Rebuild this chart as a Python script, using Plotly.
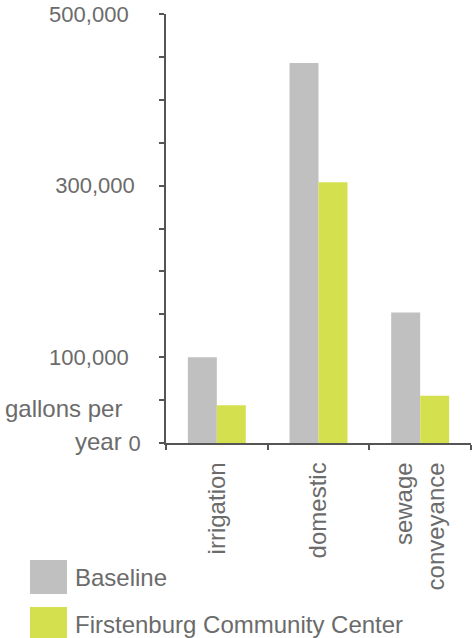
import plotly.graph_objects as go

categories = ["irrigation", "domestic", "sewage<br>conveyance"]
series_names = ["Baseline", "Firstenburg Community Center"]
baseline = [100000, 443000, 152000]
firstenburg = [44000, 304000, 55000]
y_tickvals = [0, 50000, 100000, 150000, 200000, 250000, 300000, 350000, 400000, 450000, 500000]
y_ticktext = ["0", "", "100,000\u00a0\u00a0", "", "", "", "300,000\u00a0", "", "", "", "500,000\u00a0\u00a0"]
y_title_lines = ["gallons per", "year"]

colors = ["#C0C0C0", "#D5E04F"]
TXT = "#6b6b6b"
FONT = "Liberation Sans, Arial, sans-serif"

W, H = 473, 638
ML, MR, MT, MB = 166, 2, 14, 195
PW, PH = W - ML - MR, H - MT - MB

def px_x(x):
    return (x - ML) / PW

def px_y(y):
    return (H - MB - y) / PH

fig = go.Figure()
for name, vals, col in zip(series_names, [baseline, firstenburg], colors):
    fig.add_trace(go.Bar(x=categories, y=vals, name=name, marker=dict(color=col, line=dict(width=0)),
                         showlegend=False))

fig.update_layout(
    width=W, height=H,
    margin=dict(l=ML, r=MR, t=MT, b=MB, pad=0),
    paper_bgcolor="white", plot_bgcolor="white",
    barmode="group", bargap=0.43, bargroupgap=0,
    font=dict(family=FONT, color=TXT, size=22),
)
fig.update_xaxes(
    showline=True, linecolor="#555", linewidth=1.5,
    ticks="outside", tickson="boundaries", ticklen=5, tickcolor="#555", tickwidth=1.5,
    tickangle=-90, tickfont=dict(size=24, color=TXT), ticklabelstandoff=8,
    showgrid=False, zeroline=False,
)
fig.update_yaxes(
    range=[0, 500000], showline=True, linecolor="#555", linewidth=1.5,
    ticks="outside", ticklen=5, tickcolor="#555", tickwidth=1.5,
    tickmode="array", tickvals=y_tickvals, ticktext=y_ticktext,
    tickfont=dict(size=22, color=TXT), ticklabelstandoff=14,
    showgrid=False, zeroline=False,
)

# y-axis title, two right-aligned lines beside the zero label
for line, cy in zip(y_title_lines, [408, 441]):
    fig.add_annotation(text=line, xref="paper", yref="paper", x=px_x(124), y=px_y(cy),
                       xanchor="right", yanchor="middle", align="right", showarrow=False,
                       font=dict(size=24, color=TXT))

# legend drawn manually (large swatches)
for i, (name, col) in enumerate(zip(series_names, colors)):
    top = 560 + i * 47
    fig.add_shape(type="rect", xref="paper", yref="paper",
                  x0=px_x(30), x1=px_x(67), y0=px_y(top), y1=px_y(top + 34),
                  fillcolor=col, line=dict(width=0))
    fig.add_annotation(text=name, xref="paper", yref="paper", x=px_x(73), y=px_y(top + 17),
                       xanchor="left", yanchor="middle", showarrow=False,
                       font=dict(size=24, color=TXT))

fig.write_html("out.html")
